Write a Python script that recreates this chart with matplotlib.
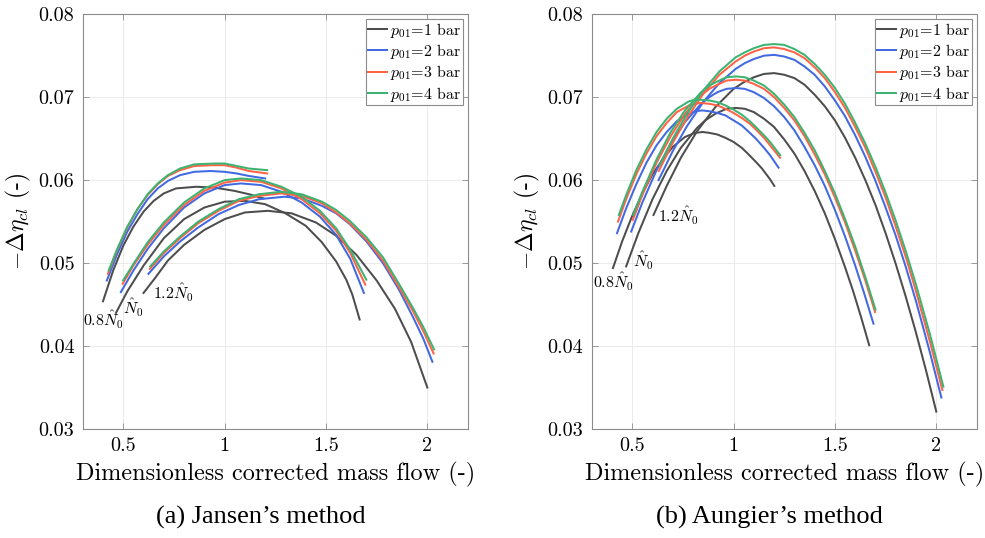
import matplotlib
matplotlib.use('Agg')
import matplotlib.pyplot as plt

plt.rcParams['font.family'] = 'cmr10'
plt.rcParams['mathtext.fontset'] = 'cm'
plt.rcParams['axes.unicode_minus'] = False
plt.rcParams['axes.formatter.use_mathtext'] = True

# ---------------- data ----------------
pressure_labels = [r'$p_{01}$=1 bar', r'$p_{01}$=2 bar', r'$p_{01}$=3 bar', r'$p_{01}$=4 bar']
line_colors = ['#4d4d4d', '#4169e1', '#ff6347', '#3cb371']
speed_labels = [r'$0.8\hat{N}_0$', r'$\hat{N}_0$', r'$1.2\hat{N}_0$']
panel_titles = ['(a) Jansen\u2019s method', '(b) Aungier\u2019s method']
x_ticks = [0.5, 1.0, 1.5, 2.0]
x_tick_labels = ['0.5', '1', '1.5', '2']
y_ticks = [0.03, 0.04, 0.05, 0.06, 0.07, 0.08]
y_tick_labels = ['0.03', '0.04', '0.05', '0.06', '0.07', '0.08']

# Jansen, 0.8 N0
jan_08_x_1 = [0.40, 0.45, 0.50, 0.55, 0.60, 0.65, 0.70, 0.76, 0.86, 0.95, 1.05, 1.12, 1.19]
jan_08_y_1 = [0.0454, 0.0491, 0.0521, 0.0544, 0.0562, 0.0575, 0.0584, 0.0590, 0.0592, 0.0591, 0.0587, 0.0583, 0.0578]
jan_08_x_2 = [0.419, 0.47, 0.52, 0.57, 0.62, 0.67, 0.72, 0.78, 0.85, 0.93, 1.00, 1.06, 1.12, 1.20]
jan_08_y_2 = [0.0479, 0.0511, 0.0538, 0.0559, 0.0577, 0.0590, 0.0599, 0.0606, 0.0610, 0.0611, 0.0610, 0.0608, 0.0605, 0.0602]
jan_08_x_3 = [0.424, 0.47, 0.52, 0.57, 0.62, 0.67, 0.72, 0.78, 0.85, 0.94, 1.00, 1.06, 1.12, 1.21]
jan_08_y_3 = [0.0487, 0.0516, 0.0543, 0.0565, 0.0582, 0.0595, 0.0605, 0.0612, 0.0617, 0.0618, 0.0618, 0.0615, 0.0611, 0.0608]
jan_08_x_4 = [0.428, 0.47, 0.52, 0.57, 0.62, 0.67, 0.72, 0.78, 0.85, 0.95, 1.00, 1.06, 1.12, 1.21]
jan_08_y_4 = [0.0491, 0.0517, 0.0544, 0.0565, 0.0583, 0.0596, 0.0606, 0.0614, 0.0619, 0.0620, 0.0620, 0.0617, 0.0614, 0.0612]

# Jansen, N0
jan_10_x_1 = [0.464, 0.52, 0.60, 0.70, 0.80, 0.90, 1.00, 1.10, 1.20, 1.30, 1.40, 1.48, 1.55, 1.60, 1.63, 1.666]
jan_10_y_1 = [0.0440, 0.0466, 0.0497, 0.0530, 0.0553, 0.0567, 0.0574, 0.0575, 0.0571, 0.0560, 0.0545, 0.0525, 0.0502, 0.0480, 0.0462, 0.0432]
jan_10_x_2 = [0.488, 0.55, 0.62, 0.70, 0.80, 0.90, 1.00, 1.08, 1.18, 1.28, 1.38, 1.47, 1.55, 1.62, 1.687]
jan_10_y_2 = [0.0465, 0.0491, 0.0517, 0.0542, 0.0567, 0.0584, 0.0594, 0.0596, 0.0594, 0.0586, 0.0573, 0.0556, 0.0534, 0.0505, 0.0464]
jan_10_x_3 = [0.497, 0.55, 0.62, 0.70, 0.80, 0.90, 1.00, 1.08, 1.18, 1.28, 1.38, 1.47, 1.55, 1.62, 1.694]
jan_10_y_3 = [0.0475, 0.0497, 0.0522, 0.0546, 0.0570, 0.0587, 0.0597, 0.0600, 0.0598, 0.0590, 0.0577, 0.0560, 0.0539, 0.0512, 0.0474]
jan_10_x_4 = [0.499, 0.55, 0.62, 0.70, 0.80, 0.90, 1.00, 1.08, 1.18, 1.28, 1.38, 1.47, 1.55, 1.62, 1.699]
jan_10_y_4 = [0.0479, 0.0499, 0.0525, 0.0549, 0.0573, 0.0590, 0.0600, 0.0602, 0.0600, 0.0592, 0.0580, 0.0563, 0.0542, 0.0516, 0.0480]

# Jansen, 1.2 N0
jan_12_x_1 = [0.600, 0.66, 0.72, 0.80, 0.90, 1.00, 1.10, 1.213, 1.33, 1.45, 1.55, 1.65, 1.75, 1.84, 1.92, 2.00]
jan_12_y_1 = [0.0464, 0.0483, 0.0503, 0.0522, 0.0540, 0.0553, 0.0561, 0.0563, 0.0560, 0.0549, 0.0533, 0.0510, 0.0479, 0.0445, 0.0405, 0.0350]
jan_12_x_2 = [0.624, 0.70, 0.78, 0.87, 0.97, 1.07, 1.17, 1.295, 1.38, 1.48, 1.55, 1.617, 1.70, 1.781, 1.86, 1.929, 1.98, 2.025]
jan_12_y_2 = [0.0487, 0.0508, 0.0526, 0.0543, 0.0559, 0.0570, 0.0577, 0.0580, 0.0578, 0.0569, 0.0560, 0.0547, 0.0526, 0.0500, 0.0468, 0.0435, 0.0409, 0.0381]
jan_12_x_3 = [0.631, 0.70, 0.78, 0.87, 0.97, 1.07, 1.17, 1.279, 1.38, 1.48, 1.55, 1.617, 1.70, 1.781, 1.86, 1.929, 1.98, 2.031]
jan_12_y_3 = [0.0493, 0.0512, 0.0530, 0.0548, 0.0563, 0.0575, 0.0581, 0.0584, 0.0581, 0.0572, 0.0561, 0.0548, 0.0528, 0.0503, 0.0471, 0.0442, 0.0418, 0.0391]
jan_12_x_4 = [0.633, 0.70, 0.78, 0.87, 0.97, 1.07, 1.17, 1.279, 1.38, 1.48, 1.55, 1.617, 1.70, 1.781, 1.86, 1.929, 1.98, 2.033]
jan_12_y_4 = [0.0496, 0.0514, 0.0532, 0.0550, 0.0565, 0.0577, 0.0583, 0.0586, 0.0583, 0.0574, 0.0564, 0.0551, 0.0531, 0.0507, 0.0475, 0.0446, 0.0423, 0.0396]

# Aungier, 0.8 N0
aun_08_x_1 = [0.405, 0.45, 0.50, 0.55, 0.60, 0.65, 0.70, 0.76, 0.81, 0.848, 0.88, 0.92, 0.96, 1.00, 1.04, 1.07, 1.11, 1.14, 1.18, 1.201]
aun_08_y_1 = [0.0494, 0.0526, 0.0557, 0.0584, 0.0607, 0.0625, 0.0640, 0.0652, 0.0657, 0.0658, 0.0657, 0.0655, 0.0651, 0.0646, 0.0639, 0.0632, 0.0622, 0.0614, 0.0601, 0.0593]
aun_08_x_2 = [0.425, 0.47, 0.52, 0.57, 0.62, 0.67, 0.72, 0.78, 0.81, 0.845, 0.88, 0.92, 0.96, 1.00, 1.04, 1.08, 1.11, 1.15, 1.18, 1.222]
aun_08_y_2 = [0.0536, 0.0566, 0.0595, 0.0621, 0.0642, 0.0658, 0.0671, 0.0680, 0.0683, 0.0684, 0.0683, 0.0681, 0.0678, 0.0672, 0.0666, 0.0657, 0.0650, 0.0639, 0.0630, 0.0615]
aun_08_x_3 = [0.43, 0.47, 0.52, 0.57, 0.62, 0.67, 0.72, 0.78, 0.81, 0.835, 0.88, 0.92, 0.96, 1.00, 1.04, 1.08, 1.11, 1.15, 1.18, 1.229]
aun_08_y_3 = [0.0550, 0.0577, 0.0607, 0.0632, 0.0653, 0.0669, 0.0682, 0.0690, 0.0692, 0.0693, 0.0692, 0.0690, 0.0686, 0.0681, 0.0675, 0.0668, 0.0661, 0.0651, 0.0642, 0.0627]
aun_08_x_4 = [0.434, 0.47, 0.52, 0.57, 0.62, 0.67, 0.72, 0.78, 0.81, 0.83, 0.88, 0.92, 0.96, 1.00, 1.04, 1.08, 1.11, 1.15, 1.18, 1.23]
aun_08_y_4 = [0.0558, 0.0582, 0.0612, 0.0637, 0.0658, 0.0674, 0.0686, 0.0695, 0.0697, 0.0697, 0.0696, 0.0694, 0.0690, 0.0685, 0.0679, 0.0671, 0.0664, 0.0654, 0.0646, 0.0630]

# Aungier, N0
aun_10_x_1 = [0.47, 0.53, 0.60, 0.67, 0.74, 0.82, 0.86, 0.91, 0.965, 1.012, 1.055, 1.10, 1.15, 1.20, 1.25, 1.30, 1.35, 1.40, 1.45, 1.50, 1.55, 1.59, 1.63, 1.669]
aun_10_y_1 = [0.0496, 0.0536, 0.0577, 0.0611, 0.0639, 0.0663, 0.0672, 0.0680, 0.0686, 0.0687, 0.0686, 0.0682, 0.0674, 0.0664, 0.0649, 0.0632, 0.0611, 0.0587, 0.0560, 0.0529, 0.0495, 0.0466, 0.0434, 0.0401]
aun_10_x_2 = [0.495, 0.55, 0.62, 0.69, 0.76, 0.84, 0.88, 0.92, 0.965, 1.012, 1.055, 1.10, 1.15, 1.20, 1.25, 1.30, 1.35, 1.40, 1.45, 1.50, 1.55, 1.60, 1.645, 1.69]
aun_10_y_2 = [0.0538, 0.0573, 0.0612, 0.0644, 0.0670, 0.0692, 0.0700, 0.0706, 0.0710, 0.0711, 0.0710, 0.0706, 0.0699, 0.0689, 0.0676, 0.0660, 0.0640, 0.0618, 0.0593, 0.0564, 0.0532, 0.0497, 0.0463, 0.0427]
aun_10_x_3 = [0.503, 0.55, 0.62, 0.69, 0.76, 0.84, 0.88, 0.92, 0.965, 1.012, 1.055, 1.10, 1.15, 1.20, 1.25, 1.30, 1.35, 1.40, 1.45, 1.50, 1.55, 1.60, 1.65, 1.698]
aun_10_y_3 = [0.0552, 0.0582, 0.0621, 0.0653, 0.0680, 0.0702, 0.0710, 0.0715, 0.0720, 0.0721, 0.0720, 0.0716, 0.0710, 0.0700, 0.0687, 0.0672, 0.0653, 0.0631, 0.0607, 0.0579, 0.0549, 0.0515, 0.0479, 0.0441]
aun_10_x_4 = [0.505, 0.55, 0.62, 0.69, 0.76, 0.84, 0.88, 0.92, 0.965, 1.012, 1.055, 1.10, 1.15, 1.20, 1.25, 1.30, 1.35, 1.40, 1.45, 1.50, 1.55, 1.60, 1.65, 1.70]
aun_10_y_4 = [0.0558, 0.0586, 0.0625, 0.0658, 0.0684, 0.0706, 0.0714, 0.0719, 0.0724, 0.0725, 0.0724, 0.0720, 0.0714, 0.0704, 0.0691, 0.0676, 0.0657, 0.0636, 0.0611, 0.0584, 0.0553, 0.0520, 0.0483, 0.0444]

# Aungier, 1.2 N0
aun_12_x_1 = [0.605, 0.67, 0.74, 0.82, 0.91, 1.00, 1.05, 1.10, 1.15, 1.20, 1.25, 1.30, 1.35, 1.40, 1.45, 1.50, 1.55, 1.60, 1.65, 1.70, 1.75, 1.80, 1.85, 1.90, 1.95, 2.00]
aun_12_y_1 = [0.0558, 0.0593, 0.0627, 0.0659, 0.0688, 0.0710, 0.0718, 0.0724, 0.0728, 0.0729, 0.0727, 0.0723, 0.0715, 0.0703, 0.0689, 0.0672, 0.0651, 0.0627, 0.0600, 0.0570, 0.0536, 0.0499, 0.0459, 0.0416, 0.0370, 0.0321]
aun_12_x_2 = [0.63, 0.70, 0.77, 0.85, 0.93, 1.01, 1.055, 1.10, 1.15, 1.20, 1.25, 1.30, 1.35, 1.40, 1.45, 1.50, 1.55, 1.60, 1.65, 1.70, 1.75, 1.80, 1.85, 1.90, 1.97, 2.025]
aun_12_y_2 = [0.0600, 0.0635, 0.0665, 0.0694, 0.0717, 0.0734, 0.0741, 0.0746, 0.0750, 0.0751, 0.0749, 0.0745, 0.0737, 0.0727, 0.0713, 0.0696, 0.0677, 0.0654, 0.0628, 0.0599, 0.0567, 0.0533, 0.0495, 0.0454, 0.0391, 0.0338]
aun_12_x_3 = [0.631, 0.70, 0.77, 0.85, 0.93, 1.01, 1.055, 1.10, 1.15, 1.20, 1.25, 1.30, 1.35, 1.40, 1.45, 1.50, 1.55, 1.60, 1.65, 1.70, 1.75, 1.80, 1.85, 1.90, 1.97, 2.03]
aun_12_y_3 = [0.0611, 0.0645, 0.0675, 0.0704, 0.0727, 0.0743, 0.0750, 0.0755, 0.0759, 0.0760, 0.0758, 0.0754, 0.0747, 0.0736, 0.0723, 0.0706, 0.0687, 0.0664, 0.0639, 0.0610, 0.0579, 0.0544, 0.0507, 0.0466, 0.0404, 0.0347]
aun_12_x_4 = [0.635, 0.70, 0.77, 0.85, 0.93, 1.01, 1.055, 1.10, 1.15, 1.20, 1.25, 1.30, 1.35, 1.40, 1.45, 1.50, 1.55, 1.60, 1.65, 1.70, 1.75, 1.80, 1.85, 1.90, 1.97, 2.035]
aun_12_y_4 = [0.0618, 0.0650, 0.0680, 0.0708, 0.0731, 0.0748, 0.0754, 0.0759, 0.0763, 0.0764, 0.0763, 0.0758, 0.0751, 0.0740, 0.0727, 0.0711, 0.0692, 0.0669, 0.0644, 0.0616, 0.0585, 0.0551, 0.0514, 0.0474, 0.0413, 0.0351]

# label anchor points (data coords) for the speed-line annotations
jan_label_x = [0.303, 0.50, 0.648]
jan_label_y = [0.0431, 0.0446, 0.04645]
aun_label_x = [0.305, 0.502, 0.628]
aun_label_y = [0.0477, 0.0502, 0.0557]

jansen = [
    [(jan_08_x_1, jan_08_y_1), (jan_08_x_2, jan_08_y_2), (jan_08_x_3, jan_08_y_3), (jan_08_x_4, jan_08_y_4)],
    [(jan_10_x_1, jan_10_y_1), (jan_10_x_2, jan_10_y_2), (jan_10_x_3, jan_10_y_3), (jan_10_x_4, jan_10_y_4)],
    [(jan_12_x_1, jan_12_y_1), (jan_12_x_2, jan_12_y_2), (jan_12_x_3, jan_12_y_3), (jan_12_x_4, jan_12_y_4)],
]
aungier = [
    [(aun_08_x_1, aun_08_y_1), (aun_08_x_2, aun_08_y_2), (aun_08_x_3, aun_08_y_3), (aun_08_x_4, aun_08_y_4)],
    [(aun_10_x_1, aun_10_y_1), (aun_10_x_2, aun_10_y_2), (aun_10_x_3, aun_10_y_3), (aun_10_x_4, aun_10_y_4)],
    [(aun_12_x_1, aun_12_y_1), (aun_12_x_2, aun_12_y_2), (aun_12_x_3, aun_12_y_3), (aun_12_x_4, aun_12_y_4)],
]

# ---------------- figure ----------------
fig = plt.figure(figsize=(9.85, 5.38), dpi=100)
ax_l = fig.add_axes([0.084, 0.2026, 0.391, 0.771])
ax_r = fig.add_axes([0.6007, 0.2026, 0.391, 0.771])

panels = [(ax_l, jansen, jan_label_x, jan_label_y), (ax_r, aungier, aun_label_x, aun_label_y)]

for idx, (ax, curves, lx, ly) in enumerate(panels):
    for s, speed in enumerate(curves):
        for p, (xs, ys) in enumerate(speed):
            ax.plot(xs, ys, color=line_colors[p], lw=1.45, solid_joinstyle='round',
                    label=pressure_labels[p] if s == 0 else None, zorder=2 + p)
        ax.text(lx[s], ly[s], speed_labels[s], fontsize=11.5, ha='left', va='center')
    ax.set_xlim(0.3, 2.2)
    ax.set_ylim(0.03, 0.08)
    ax.set_xticks(x_ticks)
    ax.set_xticklabels(x_tick_labels)
    ax.set_yticks(y_ticks)
    ax.set_yticklabels(y_tick_labels)
    ax.tick_params(direction='in', length=4, width=0.6, color='#8c8c8c',
                   labelsize=14.5, top=True, right=True, pad=6)
    ax.grid(True, color='#ebebeb', lw=0.7)
    ax.set_axisbelow(True)
    for sp in ax.spines.values():
        sp.set_color('#8c8c8c')
        sp.set_linewidth(0.8)
    ax.set_xlabel('Dimensionless corrected mass flow (-)', fontsize=17.5, labelpad=5)
    ax.set_ylabel(r'$-\Delta\eta_{cl}$ (-)', fontsize=17, labelpad=4)
    leg = ax.legend(loc='upper right', fontsize=11.5, frameon=True, fancybox=False,
                    framealpha=1, edgecolor='#8c8c8c', handlelength=1.2,
                    handletextpad=0.2, borderpad=0.1, labelspacing=0.15,
                    borderaxespad=0.3)
    leg.get_frame().set_linewidth(0.8)

fig.text(0.265, 0.039, panel_titles[0], family='Liberation Serif', fontsize=19,
         ha='center', va='center')
fig.text(0.781, 0.039, panel_titles[1], family='Liberation Serif', fontsize=19,
         ha='center', va='center')

fig.savefig('out.png', dpi=100)
